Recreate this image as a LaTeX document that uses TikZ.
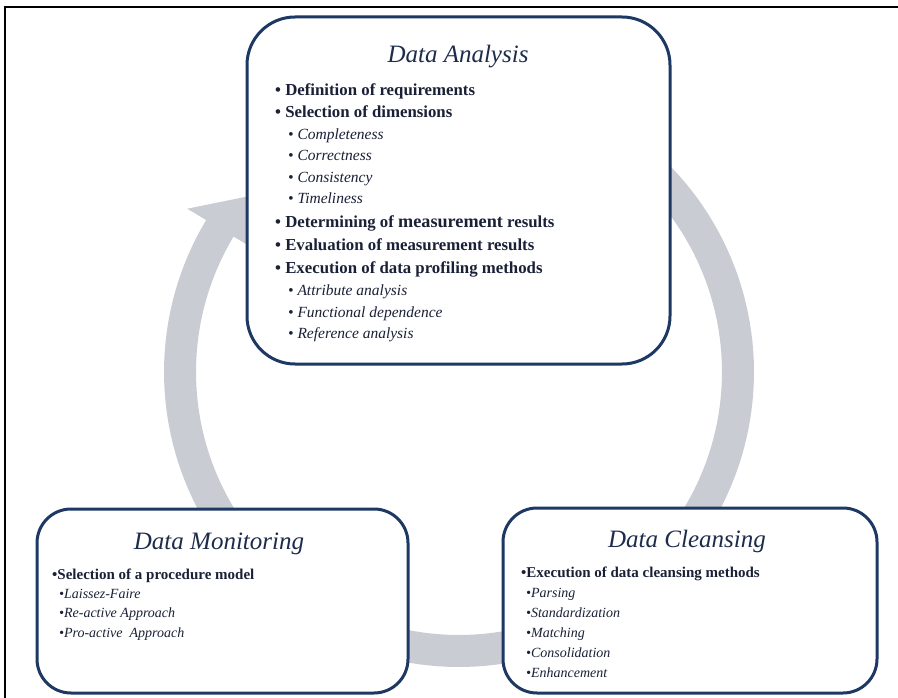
\documentclass[tikz,border=0pt]{standalone}
\usepackage{fontspec}
\setmainfont{Liberation Serif}
\definecolor{boxblue}{HTML}{1D3862}
\definecolor{titleblue}{HTML}{1E2C4C}
\definecolor{textdark}{HTML}{1A2036}
\definecolor{ringgray}{HTML}{C9CCD3}
\begin{document}
\begin{tikzpicture}[x=1pt,y=-1pt,
  box/.style={draw=boxblue, line width=3pt, fill=white, rounded corners=#1, inner sep=0pt},
  ttl/.style={font=\fontsize{25}{25}\selectfont\itshape, text=titleblue, inner sep=0pt, anchor=base},
  mainitem/.style={font=\fontsize{16.8}{16.8}\selectfont\bfseries, text=textdark, inner sep=0pt, anchor=base west},
  subitem/.style={font=\fontsize{15.5}{15.5}\selectfont\itshape, text=textdark, inner sep=0pt, anchor=base west},
  lmain/.style={font=\fontsize{15}{15}\selectfont\bfseries, text=textdark, inner sep=0pt, anchor=base west},
  lsub/.style={font=\fontsize{14}{14}\selectfont\itshape, text=textdark, inner sep=0pt, anchor=base west}
]
\useasboundingbox (0,0) rectangle (898,698);
\fill[white] (0,0) rectangle (898,698);
% outer frame
\draw[line width=2.2pt, black] (5,699) -- (5,7) -- (899,7);

% cycle arrow ring
\begin{scope}[shift={(459,372)}]
  \fill[ringgray]
    plot[domain=70:-211, samples=150] (\x:295pt)
    -- (-211:317pt) -- (-165pt,185pt) -- (-211:241pt)
    -- plot[domain=-211:70, samples=150] (\x:263pt) -- cycle;
\end{scope}

% boxes
\node[box=48pt, minimum width=423pt, minimum height=347pt] (ana) at (458.5,190.5) {};
\node[box=34pt, minimum width=371pt, minimum height=184pt] (mon) at (222.5,601) {};
\node[box=34pt, minimum width=374pt, minimum height=185pt] (cle) at (690,600.5) {};

% Data Analysis text
\node[ttl] (tA) at (458,63) {Data Analysis};
\node[mainitem] (a1) at (275,96) {• Definition of requirements};
\node[mainitem] (a2) at (275,118) {• Selection of dimensions};
\node[subitem] (a3) at (288,139.5) {• Completeness};
\node[subitem] (a4) at (288,161) {• Correctness};
\node[subitem] (a5) at (288,182.5) {• Consistency};
\node[subitem] (a6) at (288,204) {• Timeliness};
\node[mainitem] (a7) at (275,228) {• Determining of {\fontsize{18.2}{18.2}\selectfont measurement} results};
\node[mainitem] (a8) at (275,251) {• Evaluation of measurement results};
\node[mainitem] (a9) at (275,273) {• Execution of data profiling methods};
\node[subitem] (a10) at (288,295) {• Attribute analysis};
\node[subitem] (a11) at (288,317) {• Functional dependence};
\node[subitem] (a12) at (288,338) {• Reference analysis};

% Data Monitoring text
\node[ttl] (tM) at (219,549) {Data Monitoring};
\node[lmain] (m1) at (52,579) {•Selection of a procedure model};
\node[lsub] (m2) at (59,598) {•Laissez-Faire};
\node[lsub] (m3) at (59,617) {•Re-active Approach};
\node[lsub] (m4) at (59,637) {•Pro-active~ Approach};

% Data Cleansing text
\node[ttl] (tC) at (687,547) {Data Cleansing};
\node[lmain] (c1) at (521,577) {•Execution of data cleansing methods};
\node[lsub] (c2) at (526,597) {•Parsing};
\node[lsub] (c3) at (526,617) {•Standardization};
\node[lsub] (c4) at (526,637) {•Matching};
\node[lsub] (c5) at (526,657) {•Consolidation};
\node[lsub] (c6) at (526,677) {•Enhancement};
\end{tikzpicture}
\end{document}
